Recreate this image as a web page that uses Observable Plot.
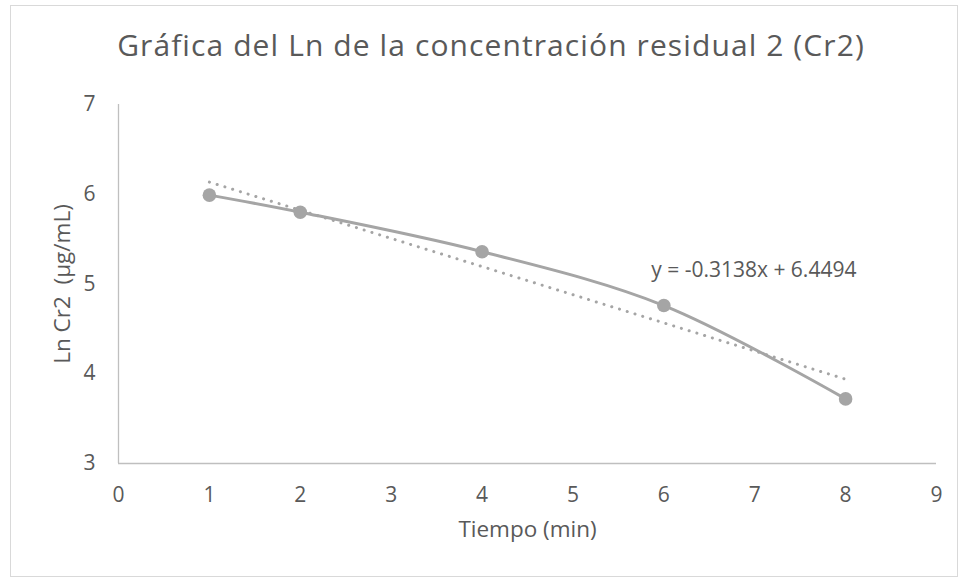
<!DOCTYPE html>
<html><head><meta charset="utf-8">
<script src="https://cdn.jsdelivr.net/npm/d3@7"></script>
<script src="https://cdn.jsdelivr.net/npm/@observablehq/plot@0.6"></script>
<style>
body{margin:0;background:#fff;}
#wrap{position:relative;width:961px;height:578px;font-family:"Open Sans",sans-serif;}
#border{position:absolute;left:10px;top:5px;width:946px;height:570px;border:1px solid #d9d9d9;}
#title{position:absolute;left:0;top:24px;width:982px;text-align:center;font-size:30px;letter-spacing:1.1px;color:#595959;white-space:nowrap;line-height:normal;}
#chart{position:absolute;left:0;top:0;}
</style></head>
<body><div id="wrap"><div id="border"></div><div id="title">Gráfica del Ln de la concentración residual 2 (Cr2)</div><div id="chart"></div></div>
<script>
const tiempo = [1, 2, 4, 6, 8];
const lnCr2 = [5.99, 5.80, 5.36, 4.76, 3.72];
const xTicks = [0,1,2,3,4,5,6,7,8,9];
const yTicks = [3,4,5,6,7];
const trendSlope = -0.3138;
const trendIntercept = 6.4494;
const trendX = [1, 8];
const equationLabel = "y = -0.3138x + 6.4494";
const xTitle = "Tiempo (min)";
const yTitle = "Ln Cr2\u00a0\u00a0(µg/mL)";

const pts = tiempo.map((t,i)=>({x:t,y:lnCr2[i]}));
const trend = trendX.map(x=>({x, y: trendSlope*x + trendIntercept}));
const grey = "#a5a5a5";
const txt = "#595959";

const plot = Plot.plot({
  width: 961, height: 578,
  marginLeft: 118, marginRight: 25, marginTop: 104, marginBottom: 115,
  style: {fontFamily: '"Open Sans", sans-serif', fontSize: "21px", color: txt, background: "transparent", overflow: "visible"},
  x: {domain: [0, 9], ticks: xTicks, label: null},
  y: {domain: [3, 7], ticks: yTicks, label: null},
  marks: [
    Plot.ruleX([0], {stroke: "#bfbfbf", strokeWidth: 1.3}),
    Plot.ruleY([3], {stroke: "#bfbfbf", strokeWidth: 1.3}),
    Plot.axisX(xTicks, {tickSize: 0, tickPadding: 24, fontSize: 21, fill: txt, tickFormat: d => String(d)}),
    Plot.axisY(yTicks, {tickSize: 0, tickPadding: 23, fontSize: 21, fill: txt, tickFormat: d => String(d)}),
    Plot.text([xTitle], {frameAnchor: "bottom", dy: 73, fontSize: 22.5, fill: txt}),
    Plot.text([yTitle], {frameAnchor: "left", textAnchor: "middle", dx: -56, rotate: -90, fontSize: 22.5, fill: txt}),
    Plot.line(trend, {x: "x", y: "y", stroke: grey, strokeWidth: 3, strokeDasharray: "0.1 8", strokeLinecap: "round"}),
    Plot.line(pts, {x: "x", y: "y", stroke: grey, strokeWidth: 3, curve: "catmull-rom"}),
    Plot.dot(pts, {x: "x", y: "y", r: 6.8, fill: grey, stroke: "none"}),
    Plot.text([equationLabel], {x: () => 6.99, y: () => 5.156, fontSize: 21, fill: txt})
  ]
});
document.getElementById("chart").appendChild(plot);
</script></body></html>
